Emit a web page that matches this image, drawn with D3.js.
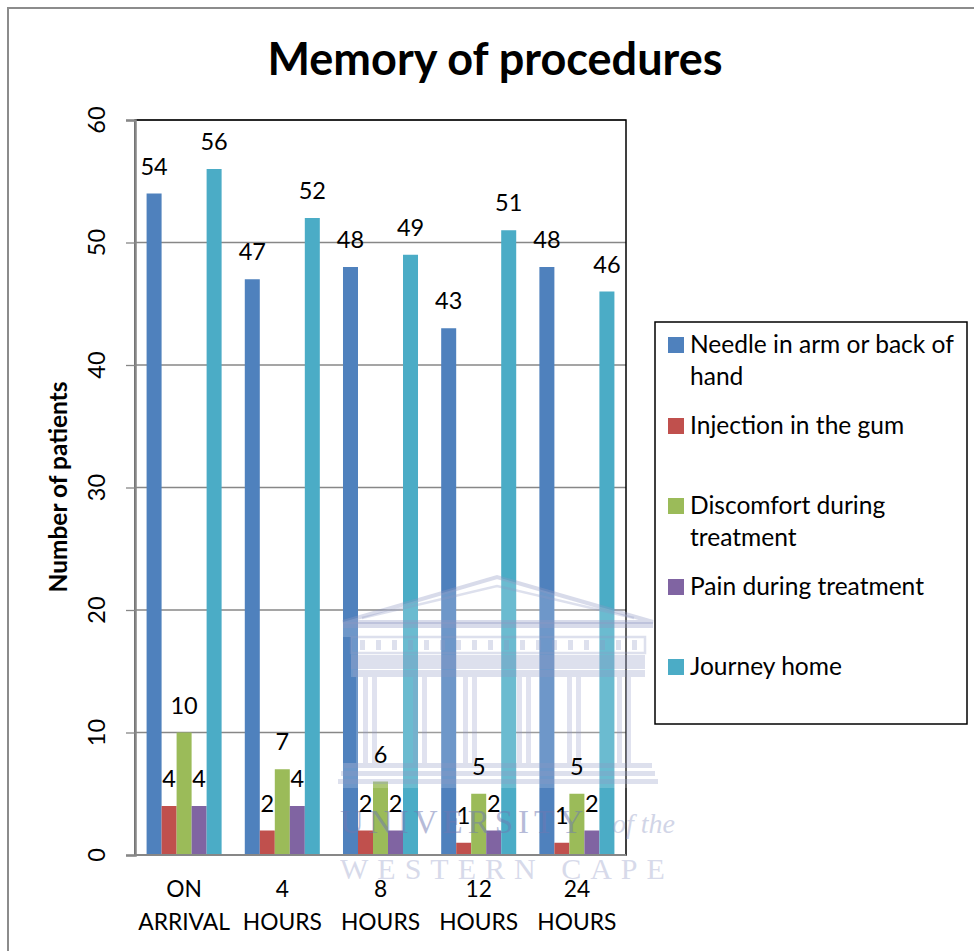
<!DOCTYPE html>
<html>
<head>
<meta charset="utf-8">
<script src="https://cdn.jsdelivr.net/npm/d3@7"></script>
<style>
  html, body { margin: 0; padding: 0; background: #fff; }
  svg { display: block; }
  text { font-family: Lato, "Open Sans", sans-serif; fill: #000; }
</style>
</head>
<body>
<script>
// ---- data ----
const categories = [["ON", "ARRIVAL"], ["4", "HOURS"], ["8", "HOURS"], ["12", "HOURS"], ["24", "HOURS"]];
const seriesNames = ["Needle in arm or back of hand", "Injection in the gum", "Discomfort during treatment", "Pain during treatment", "Journey home"];
const legendLines = [["Needle in arm or back of", "hand"], ["Injection in the gum"], ["Discomfort during", "treatment"], ["Pain during treatment"], ["Journey home"]];
const seriesColors = ["#4F81BD", "#C0504D", "#9BBB59", "#8064A2", "#4BACC6"];
const needle     = [54, 47, 48, 43, 48];
const injection  = [4, 2, 2, 1, 1];
const discomfort = [10, 7, 6, 5, 5];
const pain       = [4, 4, 2, 2, 2];
const journey    = [56, 52, 49, 51, 46];
const yTicks = [0, 10, 20, 30, 40, 50, 60];

const seriesValues = [needle, injection, discomfort, pain, journey];
const catKeys = categories.map(c => c.join(" "));

const W = 974, H = 951;
const plot = { left: 135, right: 626, top: 120, bottom: 855 };

const svg = d3.select("body").append("svg").attr("width", W).attr("height", H);

// scale a text's font size so that it spans the given width
function fitWidth(sel, base, target) {
  sel.style("font-size", base + "px");
  const len = sel.node().getComputedTextLength();
  const size = base * target / len;
  sel.style("font-size", size.toFixed(2) + "px");
  return size;
}

// outer chart frame (only top and left edges fall inside the page)
svg.append("path")
  .attr("d", `M8,${H} L8,8 L${W},8`)
  .attr("fill", "none").attr("stroke", "#8c8c8c").attr("stroke-width", 2);

// title
const title = svg.append("text")
  .attr("x", 495).attr("y", 75).attr("text-anchor", "middle")
  .style("font-weight", "bold")
  .text("Memory of procedures");
fitWidth(title, 40, 455);

// scales
const x = d3.scaleBand().domain(catKeys).range([plot.left, plot.right])
  .paddingInner(0.236).paddingOuter(0.118);
const xs = d3.scaleBand().domain(seriesNames).range([0, x.bandwidth()]).padding(0);
const y = d3.scaleLinear().domain([0, 60]).range([plot.bottom, plot.top]);

// gridlines
svg.append("g").selectAll("line").data(yTicks).join("line")
  .attr("x1", plot.left).attr("x2", plot.right)
  .attr("y1", d => y(d)).attr("y2", d => y(d))
  .attr("stroke", "#878787").attr("stroke-width", 1.3);

// plot border
svg.append("rect")
  .attr("x", plot.left).attr("y", plot.top)
  .attr("width", plot.right - plot.left).attr("height", plot.bottom - plot.top)
  .attr("fill", "none").attr("stroke", "#000").attr("stroke-width", 1.5);

// bars
const barData = [];
seriesValues.forEach((vals, si) => vals.forEach((v, ci) => barData.push({ s: seriesNames[si], si, c: catKeys[ci], v })));

svg.append("g").selectAll("rect").data(barData).join("rect")
  .attr("x", d => x(d.c) + xs(d.s))
  .attr("y", d => y(d.v))
  .attr("width", xs.bandwidth())
  .attr("height", d => y(0) - y(d.v))
  .attr("fill", d => seriesColors[d.si]);

// y axis
const yAxis = svg.append("g").attr("transform", `translate(${plot.left},0)`)
  .call(d3.axisLeft(y).tickValues(yTicks).tickSize(9).tickFormat(""));
yAxis.select(".domain").attr("stroke", "#878787").attr("stroke-width", 2.5);
yAxis.selectAll(".tick line").attr("stroke", "#878787").attr("stroke-width", 1.3);

svg.append("g").selectAll("text").data(yTicks).join("text")
  .attr("transform", d => `translate(105,${y(d)}) rotate(-90)`)
  .attr("text-anchor", "middle")
  .style("font-size", "23.5px")
  .text(d => d);

// x axis line
svg.append("line")
  .attr("x1", plot.left).attr("x2", plot.right)
  .attr("y1", plot.bottom).attr("y2", plot.bottom)
  .attr("stroke", "#878787").attr("stroke-width", 2);

// x labels (two lines each)
const xl = svg.append("g").selectAll("text").data(categories).join("text")
  .attr("text-anchor", "middle")
  .style("font-size", "22.8px");
xl.append("tspan").attr("x", (d, i) => x(catKeys[i]) + x.bandwidth() / 2).attr("y", 897).text(d => d[0]);
xl.append("tspan").attr("x", (d, i) => x(catKeys[i]) + x.bandwidth() / 2).attr("y", 930).text(d => d[1]);

// y axis title
const yTitle = svg.append("text")
  .attr("transform", `translate(67,487) rotate(-90)`)
  .attr("text-anchor", "middle")
  .style("font-weight", "bold")
  .text("Number of patients");
fitWidth(yTitle, 20, 211);

// legend
const legend = svg.append("g");
legend.append("rect")
  .attr("x", 655).attr("y", 322).attr("width", 312).attr("height", 402)
  .attr("fill", "#fff").attr("stroke", "#000").attr("stroke-width", 1.5);
const legendBase = [353, 434, 514, 595, 675];
const items = legend.selectAll("g.item").data(seriesNames).join("g").attr("class", "item");
items.append("rect")
  .attr("x", 668).attr("y", (d, i) => legendBase[i] - 16)
  .attr("width", 16).attr("height", 16)
  .attr("fill", (d, i) => seriesColors[i]);
const legendTexts = items.append("text");
legendTexts.selectAll("tspan").data((d, i) => legendLines[i].map(t => ({ t, i })))
  .join("tspan")
  .attr("x", 690)
  .attr("y", (d, j) => legendBase[d.i] + j * 32)
  .text(d => d.t);
{
  // size all legend entries alike, from the width of the first line
  const probe = svg.append("text").text(legendLines[0][0]);
  const size = fitWidth(probe, 20, 264);
  probe.remove();
  legendTexts.style("font-size", size.toFixed(2) + "px");
}

// university crest watermark laid over the lower plot
const wm = svg.append("g").attr("pointer-events", "none");
const ink = "#8f97c4";
wm.append("path")
  .attr("d", "M343,622 L497,577 L653,622 L653,637 L645,637 L645,677 L640,677 L640,763 L658,763 L658,788 L338,788 L338,763 L356,763 L356,677 L351,677 L351,637 L343,637 Z")
  .attr("fill", "#ffffff").attr("opacity", 0.18);
wm.append("path").attr("d", "M343,622 L497,577 L653,622 Z")
  .attr("fill", "none").attr("stroke", ink).attr("stroke-width", 4).attr("opacity", 0.35);
wm.append("path").attr("d", "M362,618 L497,586 L634,618")
  .attr("fill", "none").attr("stroke", ink).attr("stroke-width", 2.5).attr("opacity", 0.3);
wm.append("rect").attr("x", 343).attr("y", 622).attr("width", 310).attr("height", 6)
  .attr("fill", ink).attr("opacity", 0.35);
wm.append("rect").attr("x", 351).attr("y", 637).attr("width", 294).attr("height", 16)
  .attr("fill", "none").attr("stroke", ink).attr("stroke-width", 2.5).attr("opacity", 0.3);
wm.append("g").selectAll("rect").data(d3.range(18)).join("rect")
  .attr("x", d => 360 + d * 16).attr("y", 640).attr("width", 5).attr("height", 10)
  .attr("fill", ink).attr("opacity", 0.3);
wm.append("rect").attr("x", 351).attr("y", 655).attr("width", 294).attr("height", 14)
  .attr("fill", ink).attr("opacity", 0.3);
wm.append("rect").attr("x", 353).attr("y", 670).attr("width", 292).attr("height", 7)
  .attr("fill", ink).attr("opacity", 0.3);
wm.append("g").selectAll("g").data([363, 413, 463, 517, 567, 617]).join("g")
  .each(function (cx) {
    d3.select(this).selectAll("rect").data([0, 9]).join("rect")
      .attr("x", o => cx + o).attr("y", 677).attr("width", 5).attr("height", 86)
      .attr("fill", ink).attr("opacity", 0.28);
  });
[763, 771, 779].forEach((sy, k) => {
  wm.append("rect").attr("x", 344 - k * 3).attr("y", sy).attr("width", 308 + k * 6).attr("height", 5)
    .attr("fill", ink).attr("opacity", 0.3);
});
wm.append("text").attr("x", 340).attr("y", 833)
  .style("font-family", "'Liberation Serif', 'DejaVu Serif', serif")
  .style("font-size", "33px").style("letter-spacing", "5px")
  .style("fill", "#6f79b3").attr("opacity", 0.5)
  .text("UNIVERSITY");
wm.append("text").attr("x", 612).attr("y", 833)
  .style("font-family", "'Liberation Serif', 'DejaVu Serif', serif")
  .style("font-size", "28px").style("font-style", "italic")
  .style("fill", ink).attr("opacity", 0.4)
  .text("of the");
wm.append("text").attr("x", 340).attr("y", 879)
  .style("font-family", "'Liberation Serif', 'DejaVu Serif', serif")
  .style("font-size", "30px").style("letter-spacing", "9px")
  .style("fill", ink).attr("opacity", 0.35)
  .text("WESTERN CAPE");

// value labels drawn last so they stay readable over the crest
svg.append("g").selectAll("text").data(barData).join("text")
  .attr("x", d => x(d.c) + xs(d.s) + xs.bandwidth() / 2)
  .attr("y", d => y(d.v) - 19)
  .attr("text-anchor", "middle")
  .style("font-size", "23.5px")
  .text(d => d.v);
</script>
</body>
</html>
